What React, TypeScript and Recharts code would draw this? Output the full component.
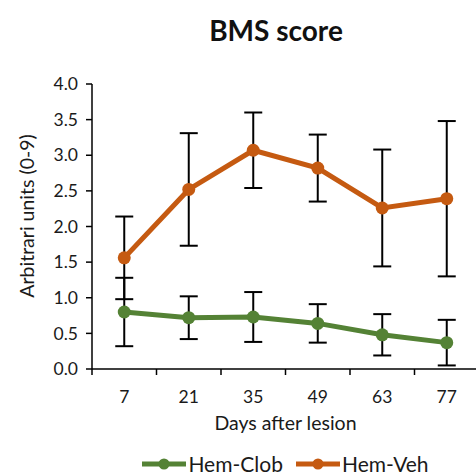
import React from 'react';
import { LineChart, Line, XAxis, YAxis, ErrorBar, Legend, Label } from 'recharts';

const days = ['7', '21', '35', '49', '63', '77'];
const clobMean = [0.8, 0.72, 0.73, 0.64, 0.48, 0.37];
const clobErr = [0.48, 0.3, 0.35, 0.27, 0.29, 0.32];
const vehMean = [1.56, 2.52, 3.07, 2.82, 2.26, 2.39];
const vehErr = [0.58, 0.79, 0.53, 0.47, 0.82, 1.09];
const yTicks = [0, 0.5, 1, 1.5, 2, 2.5, 3, 3.5, 4];
// boundaries (integers) get tick marks, centres (halves) get day labels
const xTicks = [0, 0.5, 1, 1.5, 2, 2.5, 3, 3.5, 4, 4.5, 5, 5.5, 6];

const GREEN = '#548235';
const ORANGE = '#C55A11';
const FONT = 'Lato, "Open Sans", sans-serif';
const TEXT = '#1a1a1a';

const data = days.map((d, i) => ({
  day: d,
  pos: i + 0.5,
  clob: clobMean[i],
  clobErr: clobErr[i],
  veh: vehMean[i],
  vehErr: vehErr[i],
}));

const XTick = (props: any) => {
  const { x, y, payload } = props;
  const v = payload.value as number;
  if (Number.isInteger(v)) {
    return <line x1={x} y1={y} x2={x} y2={y + 6} stroke="#000" strokeWidth={1.5} />;
  }
  const label = days[Math.floor(v)];
  return (
    <text x={x} y={y + 34} textAnchor="middle" style={{ fill: TEXT, fontSize: 17.5, fontFamily: FONT }}>
      {label}
    </text>
  );
};

const renderLegend = (props: any) => {
  const { payload } = props;
  return (
    <div style={{ display: 'flex', justifyContent: 'center', alignItems: 'center', fontFamily: FONT, fontSize: 21, lineHeight: '20px', color: TEXT, paddingLeft: 92 }}>
      {payload.map((entry: any, i: number) => (
        <div key={entry.value} style={{ display: 'flex', alignItems: 'center', marginLeft: i === 0 ? 0 : 13 }}>
          <svg width={44} height={14} style={{ marginRight: 2 }}>
            <line x1={0} y1={7} x2={44} y2={7} stroke={entry.color} strokeWidth={5} />
            <circle cx={22} cy={7} r={5.5} fill={entry.color} />
          </svg>
          <span>{entry.value}</span>
        </div>
      ))}
    </div>
  );
};

export default function App() {
  return (
    <div style={{ position: 'absolute', left: 0, top: 0, width: 476, height: 475, fontFamily: FONT, background: '#fff', overflow: 'hidden' }}>
      <div style={{ position: 'absolute', left: 0, width: 552, top: 13, textAlign: 'center', fontSize: 28, fontWeight: 700, color: '#111' }}>
        BMS score
      </div>
      <LineChart width={476} height={475} data={data} margin={{ top: 84, right: -3, left: 0, bottom: 0 }}>
        <XAxis
          dataKey="pos"
          type="number"
          domain={[0, 6]}
          ticks={xTicks}
          interval={0}
          tick={<XTick />}
          tickLine={false}
          tickSize={0}
          tickMargin={0}
          height={86}
          axisLine={{ stroke: '#000', strokeWidth: 1.5 }}
        >
          <Label value="Days after lesion" position="insideTop" offset={47} style={{ fill: TEXT, fontSize: 19.5, fontFamily: FONT }} />
        </XAxis>
        <YAxis
          width={92}
          domain={[0, 4]}
          ticks={yTicks}
          interval={0}
          tickFormatter={(v: number) => v.toFixed(1)}
          axisLine={{ stroke: '#000', strokeWidth: 1.5 }}
          tickLine={{ stroke: '#000', strokeWidth: 1.5 }}
          tickSize={6}
          tickMargin={8}
          tick={{ fill: TEXT, fontSize: 17.5, fontFamily: FONT }}
        >
          <Label
            content={() => {
              const cx = 26;
              const cy = 216;
              return (
                <text x={cx} y={cy} transform={`rotate(-90 ${cx} ${cy})`} textAnchor="middle" dominantBaseline="central" style={{ fill: TEXT, fontSize: 19.5, fontFamily: FONT }}>
                  Arbitrari units (0-9)
                </text>
              );
            }}
          />
        </YAxis>
        <Legend verticalAlign="bottom" height={20} content={renderLegend} wrapperStyle={{ top: 454, bottom: 'auto', height: 20 }} />
        <Line
          name="Hem-Clob"
          dataKey="clob"
          stroke={GREEN}
          strokeWidth={5}
          dot={{ r: 6.5, fill: GREEN, stroke: GREEN, strokeWidth: 0 }}
          activeDot={false}
          isAnimationActive={false}
        >
          <ErrorBar dataKey="clobErr" direction="y" width={9} strokeWidth={2} stroke="#000" />
        </Line>
        <Line
          name="Hem-Veh"
          dataKey="veh"
          stroke={ORANGE}
          strokeWidth={5}
          dot={{ r: 6.5, fill: ORANGE, stroke: ORANGE, strokeWidth: 0 }}
          activeDot={false}
          isAnimationActive={false}
        >
          <ErrorBar dataKey="vehErr" direction="y" width={9} strokeWidth={2} stroke="#000" />
        </Line>
      </LineChart>
    </div>
  );
}
